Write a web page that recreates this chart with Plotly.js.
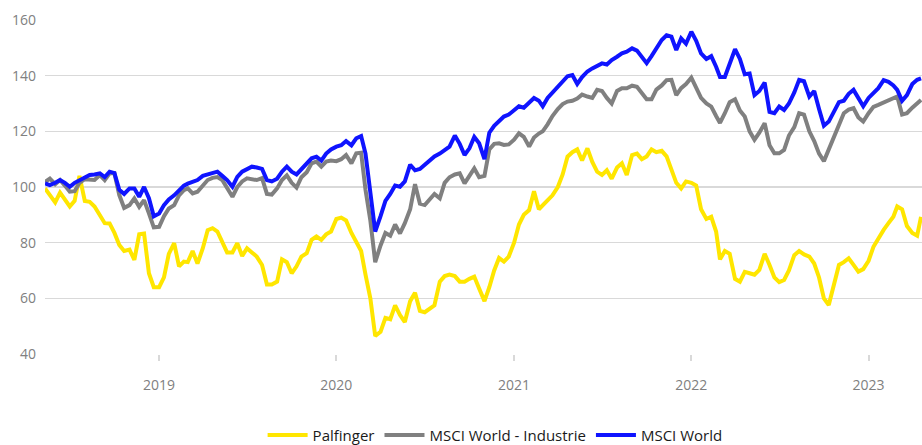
<!DOCTYPE html>
<html>
<head>
<meta charset="utf-8">
<script src="https://cdn.plot.ly/plotly-3.0.1.min.js"></script>
<style>
  html, body { margin: 0; padding: 0; background: #ffffff; }
  #chart { width: 922px; height: 445px; }
</style>
</head>
<body>
<div id="chart"></div>
<script>
// Sample dates: 1st, 11th and 21st of each month, 2018-05-11 .. 2023-04-11, plus last day 2023-04-19
function buildDates() {
  const out = [];
  for (let y = 2018; y <= 2023; y++) {
    for (let m = 1; m <= 12; m++) {
      for (const d of [1, 11, 21]) {
        const s = y + '-' + String(m).padStart(2, '0') + '-' + String(d).padStart(2, '0');
        if (s >= '2018-05-11' && s <= '2023-04-11') out.push(s);
      }
    }
  }
  out.push('2023-04-19');
  return out;
}
const dates = buildDates();

const seriesNames = ['Palfinger', 'MSCI World - Industrie', 'MSCI World'];
const seriesColors = ['#FFE600', '#808080', '#0F14FF'];

const palfinger = [
  // 2018 (May 11 .. Dec 21)
  99.5, 97.1, 94.5, 98, 95.3, 93, 95, 104, 95, 94.7, 93, 89.5, 87, 86.9, 83.5, 79.2, 77, 77.5, 73.8, 83, 83.3, 69, 64,
  // 2019
  64, 67.5, 76, 79.8, 71.5, 73.2, 73, 77, 72.5, 78, 84.5, 85.2, 84, 80.5, 76.5, 76.5, 79.8, 75.2,
  78, 76.5, 75, 72, 65, 65, 66, 74, 73, 69, 71.5, 75, 76.2, 81, 82.2, 81, 83, 84,
  // 2020
  88.5, 89, 88, 83.5, 80.5, 77, 68.5, 60, 46.5, 48, 53, 52.5, 57.5, 54, 51.5, 59, 62, 55.5,
  55, 56.2, 57.5, 66, 68, 68.5, 68, 66, 66, 67, 67.8, 63.5, 59, 64, 70, 74.5, 73.2, 75,
  // 2021
  80, 86.5, 90, 91.7, 98.5, 92, 93.5, 95, 97, 100, 104.5, 110.9, 112.5, 113.5, 109.5, 113.9, 109, 105.5,
  104.3, 106, 103, 107, 108.5, 104.3, 111.5, 112, 110, 111, 113.5, 112.5, 113, 111, 106, 101.5, 99.5, 102,
  // 2022
  101.5, 100.5, 92, 88.5, 89.3, 84, 74, 77, 76, 67, 66, 69.5, 69, 68.5, 70.2, 76, 72, 67.5,
  65.8, 66.6, 70, 75.5, 77, 75.8, 75, 72.5, 67.5, 60, 57.6, 64.5, 72, 73, 74.4, 72, 69.6, 70.5,
  // 2023 (Jan 1 .. Apr 19)
  73.5, 78.5, 81.5, 84.6, 87, 89.3, 93, 92, 86, 83.5, 82.5, 89.3
];

const msciIndustrie = [
  // 2018
  101.8, 103, 101, 102.5, 100.5, 98.3, 98.5, 101.5, 102.8, 102.5, 102.5, 104.3, 102.5, 104.9, 104.9, 97.1, 92.5, 93.5, 95.9, 92.9, 95.3, 90.5, 85.5,
  // 2019
  85.7, 89.5, 92.3, 93.5, 97, 98.9, 99.5, 97.7, 98.3, 100.8, 102.5, 103.3, 103.6, 102.5, 99.5, 96.5, 100, 102,
  103.1, 102.8, 102.5, 103.2, 97.5, 97.3, 99.5, 102.5, 104.2, 101.5, 99.8, 103.5, 105.3, 108.5, 109.1, 107.3, 109.1, 109.5,
  // 2020
  109.3, 110, 111.5, 108.5, 112.1, 112.3, 99, 88, 73, 79, 83.5, 82.5, 86.5, 83.3, 87, 92, 101, 94,
  93.5, 95.5, 97.5, 95.9, 101.5, 103.5, 104.5, 104.9, 101.3, 104, 106.7, 103.5, 104, 113.5, 115.5, 115.7, 115.1, 115.3,
  // 2021
  117, 119.3, 118, 114.5, 117.8, 119.2, 120, 122.5, 125.5, 128, 129.8, 130.7, 131, 131.8, 133.2, 132.5, 132, 134.9,
  134.5, 132, 130, 134.5, 135.5, 135.5, 136.4, 136, 133.5, 131.5, 131.5, 135, 136.5, 138.4, 138.5, 133, 135.5, 137,
  // 2022
  139.3, 136, 132, 130, 128.9, 125.5, 123, 126.5, 130.5, 131.5, 127.5, 125.3, 120, 117, 119.5, 122.9, 115, 112.1,
  112.1, 113.3, 118.5, 121.5, 126.5, 126, 120, 116.5, 112, 109.3, 113.5, 117.5, 122.5, 126.5, 127.8, 128.3, 125, 123.5,
  // 2023
  126.5, 128.8, 129.5, 130.3, 131.3, 131.8, 132.5, 126, 126.5, 128.5, 130, 131.3
];

const msciWorld = [
  // 2018
  101.3, 100.7, 101.5, 102.5, 101.5, 100.1, 101.5, 102.5, 103.5, 104.3, 104.5, 104.9, 103.6, 105.5, 105, 99, 97.5, 99.5, 99.5, 96.5, 100, 96, 89.5,
  // 2019
  90.5, 93.5, 95.5, 97, 98.9, 100.5, 101.2, 102, 102.5, 104, 104.5, 105.2, 105.5, 104, 102.5, 100.1, 103.6, 105.5,
  106.5, 107.3, 107, 106.5, 102.5, 102, 103, 105.5, 107.3, 105.5, 104.5, 106.5, 108.5, 110.3, 110.9, 109.5, 112, 113.5,
  // 2020
  114.5, 115, 116.5, 115, 117.5, 118.3, 112, 98, 84, 89.5, 95, 97.5, 100.5, 100.1, 102, 108, 106, 106.5,
  108, 109.7, 111, 112, 113.3, 114.5, 118.5, 115.5, 111.5, 113.9, 118, 115.7, 110, 119.5, 122, 123.8, 125.3, 126,
  // 2021
  127.5, 129, 128.5, 130.5, 132, 131, 129, 132, 134, 136.1, 138, 139.8, 140.2, 137, 139.5, 141.5, 142.6, 143.5,
  144.4, 144, 145.6, 146.8, 148, 148.6, 149.8, 149, 146.5, 144.5, 147, 150, 152.8, 154.5, 154, 149.2, 153.4, 151.5,
  // 2022
  155.8, 152.5, 148, 146, 147, 143.2, 139.5, 139.5, 144.4, 149.5, 146, 140.5, 140.8, 133, 134.5, 137.5, 127, 126.5,
  128.9, 127.7, 130, 134, 138.5, 138, 132.5, 134.5, 128, 122, 123.5, 127, 130.5, 131, 133.5, 134.9, 132, 129,
  // 2023
  132, 134, 135.5, 138.4, 137.8, 136.5, 134.9, 131, 133, 137, 138.5, 139
];

const yTicks = [40, 60, 80, 100, 120, 140, 160];
const xTickVals = ['2019-01-01', '2020-01-01', '2021-01-01', '2022-01-01', '2023-01-01'];
const xTickText = ['2019', '2020', '2021', '2022', '2023'];

const allValues = [palfinger, msciIndustrie, msciWorld];
const traces = allValues.map((vals, i) => ({
  type: 'scatter',
  mode: 'lines',
  name: seriesNames[i],
  x: dates,
  y: vals,
  line: { color: seriesColors[i], width: 4, shape: 'linear' },
  hoverinfo: 'skip'
}));

const layout = {
  width: 922,
  height: 445,
  margin: { l: 45, r: 0, t: 20, b: 91 },
  paper_bgcolor: '#ffffff',
  plot_bgcolor: '#ffffff',
  font: { family: '"Open Sans", "Noto Sans", sans-serif', size: 14, color: '#808080' },
  showlegend: true,
  legend: {
    orientation: 'h',
    xref: 'container', yref: 'container',
    x: 0.537, xanchor: 'center',
    y: 0.022, yanchor: 'middle',
    font: { size: 15, color: '#1a1a1a', family: '"Open Sans", "Noto Sans", sans-serif' },
    itemwidth: 40,
    traceorder: 'normal'
  },
  xaxis: {
    type: 'date',
    range: ['2018-05-11', '2023-04-21'],
    tickmode: 'array',
    tickvals: xTickVals,
    ticktext: xTickText,
    showgrid: false,
    zeroline: false,
    showline: false,
    ticks: 'outside',
    ticklen: 6,
    tickwidth: 2,
    tickcolor: '#d9d9d9',
    ticklabelstandoff: 12,
    tickfont: { size: 14, color: '#808080' }
  },
  yaxis: {
    range: [40, 160],
    tickmode: 'array',
    tickvals: yTicks,
    showgrid: true,
    gridcolor: '#d9d9d9',
    gridwidth: 1.5,
    zeroline: false,
    showline: false,
    ticks: '',
    ticklabelstandoff: 8,
    tickfont: { size: 14, color: '#808080' }
  }
};

Plotly.newPlot('chart', traces, layout, { staticPlot: true, displayModeBar: false });
</script>
</body>
</html>
